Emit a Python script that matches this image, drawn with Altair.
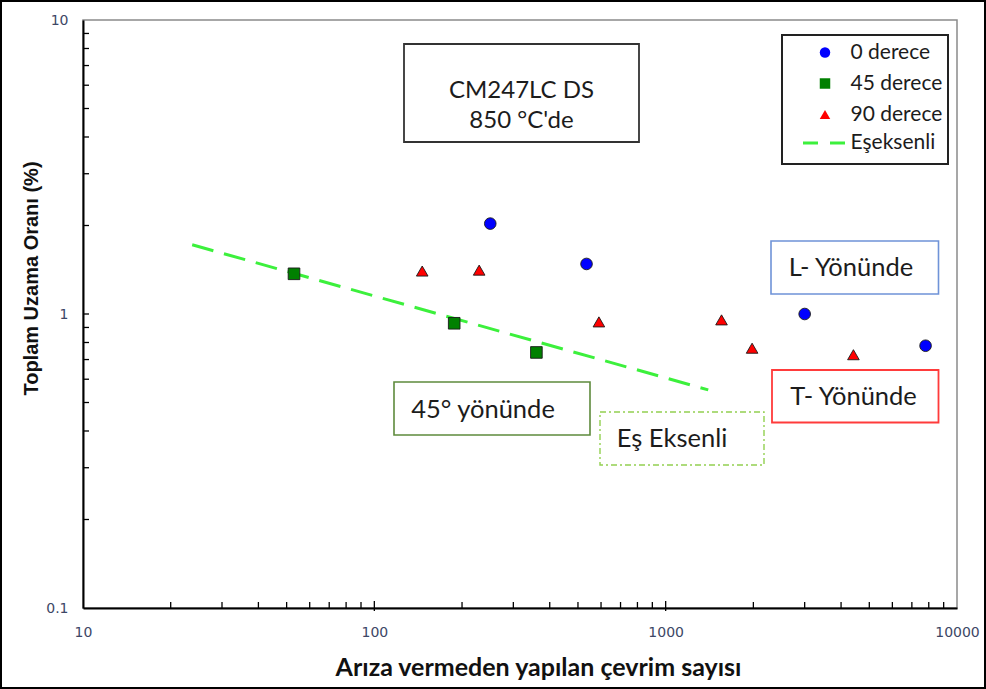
import altair as alt
import pandas as pd

# ---------------- data ----------------
series_names = ["0 derece", "45 derece", "90 derece"]
line_name = "Eşeksenli"

deg0_x = [250, 535, 3000, 7800]
deg0_y = [2.03, 1.48, 1.0, 0.78]

deg45_x = [53, 188, 360]
deg45_y = [1.37, 0.93, 0.74]

deg90_x = [146, 229, 590, 1555, 1980, 4410]
deg90_y = [1.40, 1.41, 0.94, 0.955, 0.765, 0.727]

esx_x = [23.7, 1400]
esx_y = [1.72, 0.552]

x_major = [10, 100, 1000, 10000]
y_major = [0.1, 1, 10]
x_minor = [20, 30, 40, 50, 60, 70, 80, 90,
           200, 300, 400, 500, 600, 700, 800, 900,
           2000, 3000, 4000, 5000, 6000, 7000, 8000, 9000]
x_mid = [100, 1000]
y_minor = [0.2, 0.3, 0.4, 0.5, 0.6, 0.7, 0.8, 0.9,
           1, 2, 3, 4, 5, 6, 7, 8, 9]

x_title = "Arıza vermeden yapılan çevrim sayısı"
y_title = "Toplam Uzama Oranı (%)"

# ---------------- tables ----------------
pts = pd.DataFrame({
    "x": deg0_x + deg45_x + deg90_x,
    "y": deg0_y + deg45_y + deg90_y,
    "seri": [series_names[0]] * len(deg0_x) + [series_names[1]] * len(deg45_x)
            + [series_names[2]] * len(deg90_x),
})
line_df = pd.DataFrame({"x": esx_x, "y": esx_y, "seri": [line_name] * len(esx_x)})
xminor_df = pd.DataFrame({"x": x_minor})
xmid_df = pd.DataFrame({"x": x_mid})
yminor_df = pd.DataFrame({"y": y_minor})
one = pd.DataFrame({"a": [0]})

# ---------------- layout ----------------
W, H = 874, 588
OX, OY = 83, 20

xscale = alt.Scale(type="log", domain=[10, 10000], nice=False)
yscale = alt.Scale(type="log", domain=[0.1, 10], nice=False)

label_color = "#3d4766"
xaxis = alt.Axis(values=x_major, format="d", ticks=False, grid=False,
                 domainColor="black", domainWidth=2, labelFlush=False,
                 labelOverlap=False, labelFont="DejaVu Sans", labelFontSize=14,
                 labelColor=label_color, labelPadding=17,
                 title=x_title, titleFont="Lato", titleFontSize=25,
                 titleFontWeight="bold", titleColor="#111111",
                 titleX=455, titleY=59, titleBaseline="middle")
yaxis = alt.Axis(values=y_major, format="~g", ticks=False, grid=False,
                 domainColor="black", domainWidth=2, labelFlush=False,
                 labelOverlap=False, labelFont="DejaVu Sans", labelFontSize=14,
                 labelColor=label_color, labelPadding=15,
                 title=y_title, titleFont="Liberation Sans", titleFontSize=20,
                 titleFontWeight="bold", titleColor="#111111",
                 titleX=-52, titleY=258, titleBaseline="middle")


def X(f="x"):
    return alt.X(f"{f}:Q", scale=xscale, axis=xaxis)


def Y(f="y"):
    return alt.Y(f"{f}:Q", scale=yscale, axis=yaxis)


def box(x1, y1, x2, y2, stroke, width=1.6, dash=None):
    kw = dict(fill="white", stroke=stroke, strokeWidth=width)
    if dash:
        kw["strokeDash"] = dash
    return alt.Chart(one).mark_rect(**kw).encode(
        x=alt.value(x1 - OX), x2=alt.value(x2 - OX),
        y=alt.value(y1 - OY), y2=alt.value(y2 - OY))


def label(txt, cx, cy, size=25.5, lh=None):
    kw = dict(text=txt, font="Lato", fontSize=size, color="#1c1c1c",
              align="center", baseline="middle")
    if lh:
        kw["lineHeight"] = lh
    return alt.Chart(one).mark_text(**kw).encode(
        x=alt.value(cx - OX), y=alt.value(cy - OY))


# outer picture border
border = alt.Chart(one).mark_rect(fillOpacity=0, stroke="black", strokeWidth=2).encode(
    x=alt.value(1 - OX), x2=alt.value(985 - OX),
    y=alt.value(1 - OY), y2=alt.value(688 - OY))

annots = [
    box(404, 44, 639, 142, "#333333", 1.8),
    label(["CM247LC DS", "850 °C'de"], 521.5, 91, 24, 30),
    box(771, 241, 938.5, 294, "#6f93d8"),
    label("L- Yönünde", 851, 268),
    box(772, 370, 938.5, 422.5, "#ff3b3b", 1.8),
    label("T- Yönünde", 853.5, 396.5),
    box(394, 382, 590, 435, "#5e8a3c"),
    label("45° yönünde", 483, 409.5),
    box(600, 412, 764, 465, "#92d050", 1.4, [6, 3, 2, 3]),
    label("Eş Eksenli", 672, 439),
    box(782, 35, 948, 164, "#222222", 2),
]

esx_line = alt.Chart(line_df).mark_line(strokeWidth=3, strokeDash=[22, 11]).encode(
    x=X(), y=Y(),
    stroke=alt.Stroke("seri:N", scale=alt.Scale(domain=[line_name], range=["#3cf03c"]),
                      legend=alt.Legend(orient="none", legendX=718.5, legendY=100,
                                        title=None, symbolType="stroke", symbolSize=1849,
                                        symbolDash=[15, 12], symbolStrokeWidth=3,
                                        labelFont="Lato", labelFontSize=21,
                                        labelColor="#1c1c1c", labelOffset=3, padding=0)),
)

leg = dict(orient="none", legendX=731.5, legendY=22, title=None,
           labelFont="Lato", labelFontSize=21, labelColor="#1c1c1c",
           symbolSize=110, rowPadding=9, labelOffset=15, padding=0,
           symbolStrokeColor="#1a1a1a", symbolStrokeWidth=0.9, symbolOpacity=1)

points = alt.Chart(pts).mark_point(filled=True, size=135, opacity=1, stroke="#1a1a1a",
                                   strokeWidth=0.9).encode(
    x=X(), y=Y(),
    fill=alt.Fill("seri:N", scale=alt.Scale(domain=series_names,
                                            range=["#0000ff", "#008000", "#ff0000"]),
                  legend=alt.Legend(**leg)),
    shape=alt.Shape("seri:N", scale=alt.Scale(domain=series_names,
                                              range=["circle", "square", "triangle-up"]),
                    legend=alt.Legend(**leg)),
)

xminor = alt.Chart(xminor_df).mark_rule(color="black", strokeWidth=1.3).encode(
    x=X(), y=alt.value(H), y2=alt.value(H - 6))
xmid = alt.Chart(xmid_df).mark_rule(color="black", strokeWidth=1.3).encode(
    x=X(), y=alt.value(H + 3), y2=alt.value(H - 7))
yminor = alt.Chart(yminor_df).mark_rule(color="black", strokeWidth=1.3).encode(
    y=Y(), x=alt.value(0), x2=alt.value(6))

chart = alt.layer(border, *annots, esx_line, points, xminor, xmid, yminor).properties(
    width=W, height=H,
    autosize=alt.AutoSizeParams(type="none"),
    padding={"left": OX, "top": OY, "right": 986 - OX - W, "bottom": 689 - OY - H},
    background="white",
).configure_view(stroke="#8a8a8a", strokeWidth=1.5)

chart.save("out.html", embed_options={"renderer": "svg", "actions": False})
